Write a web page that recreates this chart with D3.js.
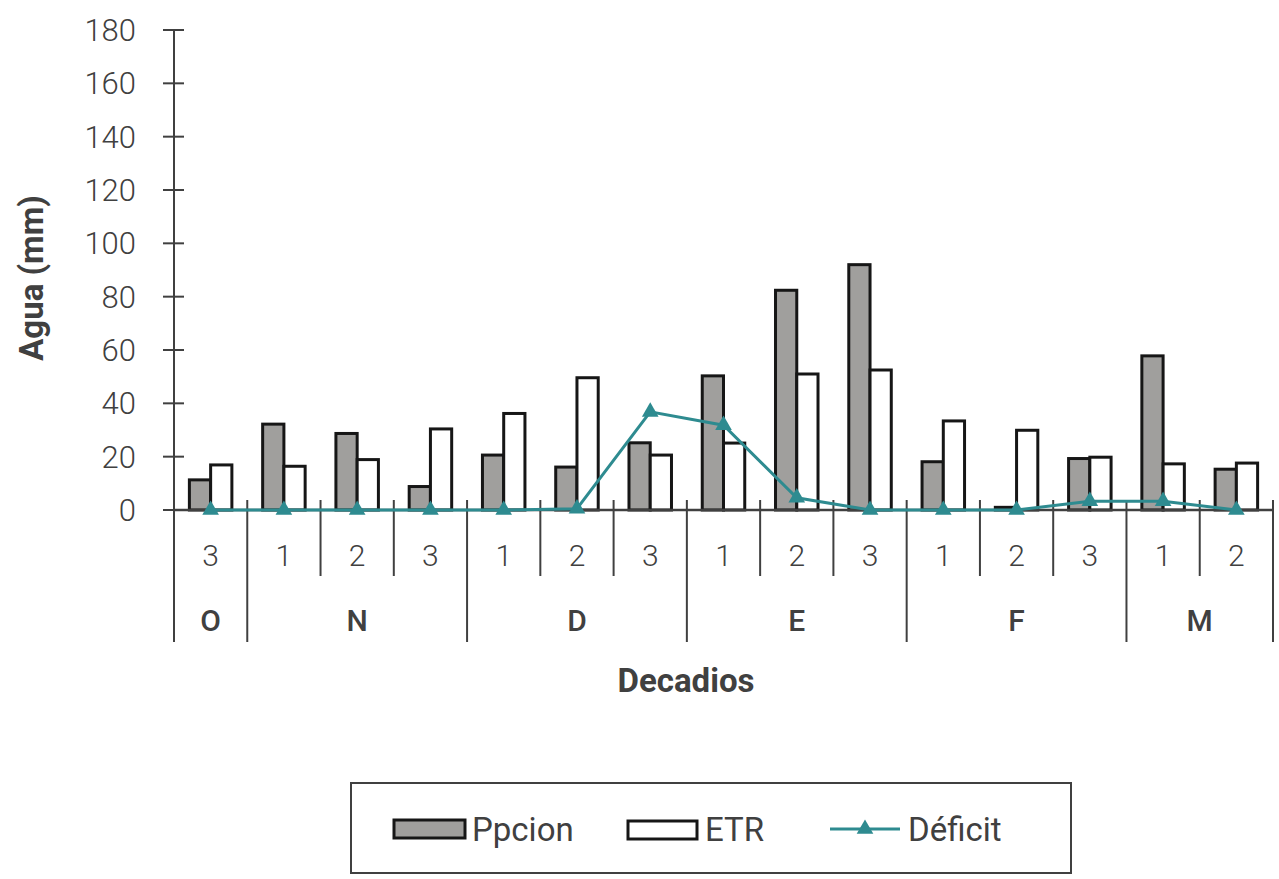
<!DOCTYPE html>
<html>
<head>
<meta charset="utf-8">
<script src="https://cdn.jsdelivr.net/npm/d3@7"></script>
<style>
  body { margin: 0; background: #fff; }
  svg { display: block; font-family: Roboto, "Noto Sans", sans-serif; }
</style>
</head>
<body>
<div id="chart-container"></div>
<script>
// Data
const decadios = ["3", "1", "2", "3", "1", "2", "3", "1", "2", "3", "1", "2", "3", "1", "2"];
const meses = ["O", "N", "N", "N", "D", "D", "D", "E", "E", "E", "F", "F", "F", "M", "M"];
const ppcion = [11.3, 32.2, 28.7, 8.8, 20.6, 16.1, 25.2, 50.3, 82.4, 92.0, 18.1, 1.0, 19.3, 57.8, 15.3];
const etr = [16.9, 16.4, 18.9, 30.4, 36.2, 49.6, 20.6, 25.1, 51.0, 52.5, 33.4, 29.9, 19.8, 17.3, 17.6];
const deficit = [0, 0, 0, 0, 0, 0.5, 36.8, 31.8, 4.6, 0, 0, 0, 3.3, 3.3, 0];
const yTicks = [0, 20, 40, 60, 80, 100, 120, 140, 160, 180];

const W = 1279, H = 879;
const margin = { top: 30, right: 6, bottom: 369, left: 174 };
const width = W - margin.left - margin.right;
const height = H - margin.top - margin.bottom;

const axisColor = "#404040";
const teal = "#2e8b90";

const svg = d3.select("#chart-container")
  .append("svg")
    .attr("width", W)
    .attr("height", H);

const g = svg.append("g")
    .attr("transform", `translate(${margin.left},${margin.top})`);

const idx = d3.range(decadios.length);
const x = d3.scaleBand().domain(idx).range([0, width]).padding(0);
const y = d3.scaleLinear().domain([0, 180]).range([height, 0]);

const barW = x.bandwidth() * 0.29;

// y axis line and cross ticks
g.append("line")
    .attr("x1", 0).attr("x2", 0)
    .attr("y1", y(180)).attr("y2", height + 132)
    .attr("stroke", axisColor).attr("stroke-width", 2);

g.selectAll(".ytick")
  .data(yTicks)
  .join("line")
    .attr("x1", -11).attr("x2", 10)
    .attr("y1", d => y(d)).attr("y2", d => y(d))
    .attr("stroke", axisColor).attr("stroke-width", 2);

g.selectAll(".ylabel")
  .data(yTicks)
  .join("text")
    .attr("x", -38)
    .attr("y", d => y(d))
    .attr("dy", "0.36em")
    .attr("text-anchor", "end")
    .style("font-size", "31px")
    .style("font-weight", 300)
    .style("fill", axisColor)
    .text(d => d);

// bars
g.selectAll(".ppcion")
  .data(idx)
  .join("rect")
    .attr("x", i => x(i) + x.bandwidth() / 2 - barW)
    .attr("y", i => y(ppcion[i]))
    .attr("width", barW)
    .attr("height", i => height - y(ppcion[i]))
    .attr("fill", "#a09f9d")
    .attr("stroke", "#161616")
    .attr("stroke-width", 3);

g.selectAll(".etr")
  .data(idx)
  .join("rect")
    .attr("x", i => x(i) + x.bandwidth() / 2)
    .attr("y", i => y(etr[i]))
    .attr("width", barW)
    .attr("height", i => height - y(etr[i]))
    .attr("fill", "#fff")
    .attr("stroke", "#161616")
    .attr("stroke-width", 3);

// baseline
g.append("line")
    .attr("x1", 0).attr("x2", width)
    .attr("y1", height).attr("y2", height)
    .attr("stroke", axisColor).attr("stroke-width", 2.5);

// category ticks (multi-level)
const boundaries = d3.range(decadios.length + 1);
g.selectAll(".ctick")
  .data(boundaries.slice(1))
  .join("line")
    .attr("x1", i => x(i) ?? width).attr("x2", i => x(i) ?? width)
    .attr("y1", height - 10)
    .attr("y2", i => (i === decadios.length || meses[i] !== meses[i - 1]) ? height + 132 : height + 66)
    .attr("stroke", axisColor).attr("stroke-width", 2);

g.selectAll(".clabel")
  .data(idx)
  .join("text")
    .attr("x", i => x(i) + x.bandwidth() / 2)
    .attr("y", height + 45)
    .attr("dy", "0.36em")
    .attr("text-anchor", "middle")
    .style("font-size", "30px")
    .style("font-weight", 300)
    .style("fill", axisColor)
    .text(i => decadios[i]);

const groups = d3.groups(idx, i => meses[i]);
g.selectAll(".mlabel")
  .data(groups)
  .join("text")
    .attr("x", ([, v]) => (x(v[0]) + x(v[v.length - 1]) + x.bandwidth()) / 2)
    .attr("y", height + 110)
    .attr("dy", "0.36em")
    .attr("text-anchor", "middle")
    .style("font-size", "30px")
    .style("font-weight", 500)
    .style("fill", axisColor)
    .text(([k]) => k);

// deficit line
const line = d3.line()
  .x(i => x(i) + x.bandwidth() / 2)
  .y(i => y(deficit[i]));

g.append("path")
    .datum(idx)
    .attr("fill", "none")
    .attr("stroke", teal)
    .attr("stroke-width", 3)
    .attr("d", line);

const tri = d3.symbol(d3.symbolTriangle, 120);
g.selectAll(".marker")
  .data(idx)
  .join("path")
    .attr("transform", i => `translate(${x(i) + x.bandwidth() / 2},${y(deficit[i])})`)
    .attr("d", tri)
    .attr("fill", teal);

// axis titles
svg.append("text")
    .attr("transform", `translate(31,${margin.top + height / 2 + 8}) rotate(-90)`)
    .attr("dy", "0.36em")
    .attr("text-anchor", "middle")
    .style("font-size", "33px")
    .style("font-weight", "bold")
    .style("fill", axisColor)
    .text("Agua (mm)");

svg.append("text")
    .attr("x", 686)
    .attr("y", 680)
    .attr("dy", "0.36em")
    .attr("text-anchor", "middle")
    .style("font-size", "33px")
    .style("font-weight", "bold")
    .style("fill", axisColor)
    .text("Decadios");

// legend
const legend = svg.append("g").attr("transform", "translate(351,783)");
legend.append("rect")
    .attr("width", 720).attr("height", 90)
    .attr("fill", "#fff")
    .attr("stroke", axisColor).attr("stroke-width", 2);

legend.append("rect")
    .attr("x", 43).attr("y", 37).attr("width", 71).attr("height", 18)
    .attr("fill", "#a09f9d").attr("stroke", "#161616").attr("stroke-width", 3);
legend.append("rect")
    .attr("x", 277).attr("y", 38).attr("width", 69).attr("height", 18)
    .attr("fill", "#fff").attr("stroke", "#161616").attr("stroke-width", 3);
legend.append("line")
    .attr("x1", 479).attr("x2", 549).attr("y1", 46).attr("y2", 46)
    .attr("stroke", teal).attr("stroke-width", 3);
legend.append("path")
    .attr("transform", "translate(514,46)")
    .attr("d", tri)
    .attr("fill", teal);

const legendItems = [["Ppcion", 121], ["ETR", 354], ["Déficit", 557]];
legend.selectAll(".ltext")
  .data(legendItems)
  .join("text")
    .attr("x", d => d[1])
    .attr("y", 46)
    .attr("dy", "0.36em")
    .style("font-size", "33px")
    .style("fill", axisColor)
    .text(d => d[0]);
</script>
</body>
</html>
